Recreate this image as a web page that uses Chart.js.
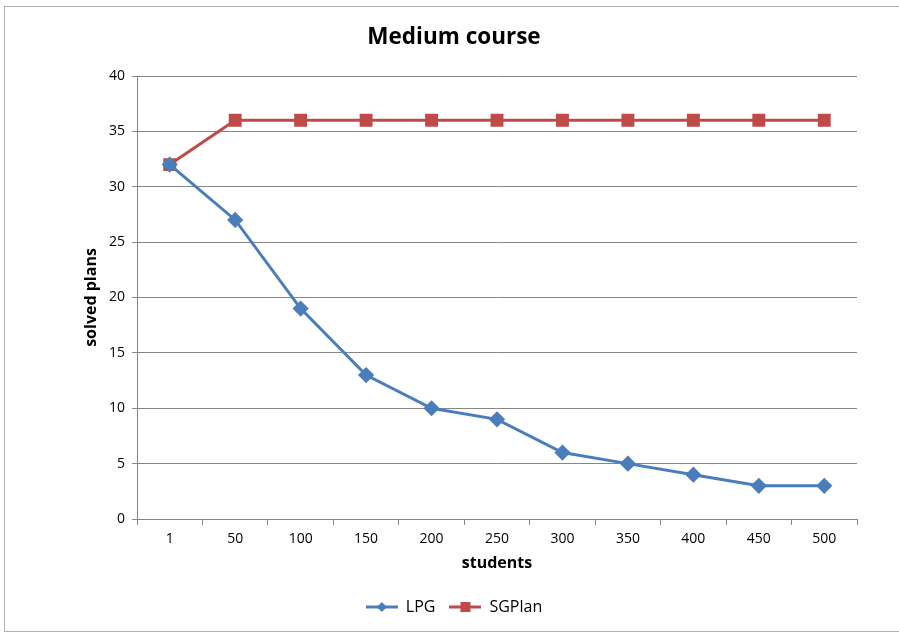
<!DOCTYPE html>
<html>
<head>
<meta charset="utf-8">
<title>Medium course</title>
<script src="https://cdn.jsdelivr.net/npm/chart.js@4"></script>
<style>
    html, body { margin: 0; padding: 0; background: #fff; }
    canvas { display: block; }
</style>
</head>
<body>
<canvas id="mediumChart" width="899" height="634"></canvas>
<script>
// Chart data
const students = ['1', '50', '100', '150', '200', '250', '300', '350', '400', '450', '500'];
const lpgPlans = [32, 27, 19, 13, 10, 9, 6, 5, 4, 3, 3];
const sgplanPlans = [32, 36, 36, 36, 36, 36, 36, 36, 36, 36, 36];
const yTicks = [0, 5, 10, 15, 20, 25, 30, 35, 40];

const blue = '#4a7ebb';
const red = '#be4b48';
const fontFamily = '"Open Sans", "Noto Sans", sans-serif';

// legend swatch: short line with the marker in the middle (Excel style)
function legendSwatch(color, shape) {
    const c = document.createElement('canvas');
    c.width = 32;
    c.height = 14;
    const g = c.getContext('2d');
    g.strokeStyle = color;
    g.lineWidth = 3;
    g.beginPath();
    g.moveTo(0, 7);
    g.lineTo(32, 7);
    g.stroke();
    g.fillStyle = color;
    if (shape === 'diamond') {
        g.beginPath();
        g.moveTo(16, 2);
        g.lineTo(21, 7);
        g.lineTo(16, 12);
        g.lineTo(11, 7);
        g.closePath();
        g.fill();
    } else {
        g.fillRect(11, 2, 10, 10);
    }
    return c;
}

// white background + thin frame round the whole chart
const framePlugin = {
    id: 'frame',
    beforeDraw(chart) {
        const ctx = chart.ctx;
        ctx.save();
        ctx.fillStyle = '#fff';
        ctx.fillRect(0, 0, chart.width, chart.height);
        ctx.strokeStyle = '#b0b0b0';
        ctx.lineWidth = 1;
        ctx.strokeRect(4.5, 6.5, 900, 625);
        ctx.restore();
    }
};

const ctx = document.getElementById('mediumChart').getContext('2d');
new Chart(ctx, {
    type: 'line',
    data: {
        labels: students,
        datasets: [{
            label: 'LPG',
            data: lpgPlans,
            borderColor: blue,
            backgroundColor: blue,
            borderWidth: 3,
            pointStyle: 'rectRot',
            pointRadius: 6,
            pointHoverRadius: 6,
            tension: 0
        }, {
            label: 'SGPlan',
            data: sgplanPlans,
            borderColor: red,
            backgroundColor: red,
            borderWidth: 3,
            pointStyle: 'rect',
            pointRadius: 7,
            pointHoverRadius: 7,
            tension: 0
        }]
    },
    options: {
        responsive: false,
        devicePixelRatio: 1,
        animation: false,
        layout: {
            padding: { left: 51, right: 42, top: 0, bottom: 9 }
        },
        plugins: {
            title: {
                display: true,
                text: 'Medium course',
                color: '#000',
                font: { family: fontFamily, size: 22.5, weight: 'bold' },
                padding: { top: 24, bottom: 25 }
            },
            legend: {
                position: 'bottom',
                labels: {
                    usePointStyle: true,
                    pointStyleWidth: 32,
                    color: '#000',
                    font: { family: fontFamily, size: 16 },
                    padding: 14,
                    generateLabels(chart) {
                        const items = Chart.defaults.plugins.legend.labels.generateLabels(chart);
                        items[0].pointStyle = legendSwatch(blue, 'diamond');
                        items[1].pointStyle = legendSwatch(red, 'square');
                        return items;
                    }
                }
            },
            tooltip: { enabled: false }
        },
        scales: {
            x: {
                offset: true,
                grid: {
                    offset: true,
                    drawOnChartArea: false,
                    drawTicks: true,
                    tickLength: 6,
                    color: '#868686'
                },
                border: { color: '#868686', width: 1 },
                ticks: {
                    color: '#000',
                    padding: 6,
                    font: { family: fontFamily, size: 14 },
                    maxRotation: 0
                },
                title: {
                    display: true,
                    text: 'students',
                    color: '#000',
                    font: { family: fontFamily, size: 16, weight: 'bold' },
                    padding: { top: 0, bottom: 12 }
                }
            },
            y: {
                min: 0,
                max: 40,
                afterBuildTicks(scale) {
                    scale.ticks = yTicks.map(v => ({ value: v }));
                },
                afterFit(scale) {
                    scale.width = 86;
                },
                grid: {
                    color: '#868686',
                    tickLength: 5
                },
                border: { color: '#868686', width: 1 },
                ticks: {
                    color: '#000',
                    padding: 7,
                    font: { family: fontFamily, size: 14 }
                },
                title: {
                    display: true,
                    text: 'solved plans',
                    color: '#000',
                    font: { family: fontFamily, size: 16, weight: 'bold' },
                    padding: { top: 31, bottom: 4 }
                }
            }
        }
    },
    plugins: [framePlugin]
});
</script>
</body>
</html>
